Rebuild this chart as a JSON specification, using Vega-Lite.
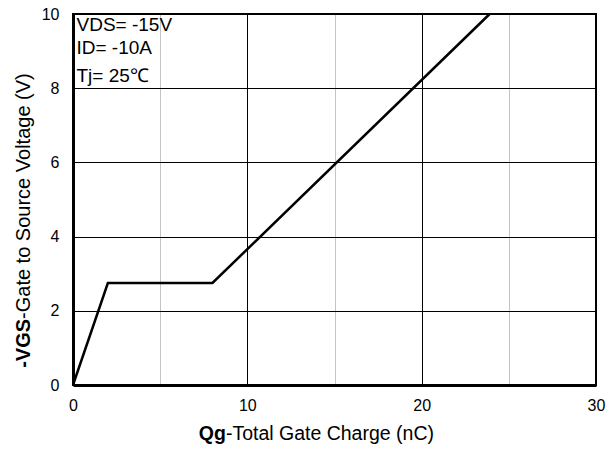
{
  "$schema": "https://vega.github.io/schema/vega-lite/v6.json",
  "width": 523,
  "height": 371,
  "autosize": {"type": "none"},
  "padding": {"left": 73, "top": 14, "right": 19, "bottom": 65},
  "background": "white",
  "config": {
    "font": "Liberation Sans",
    "view": {"stroke": "black", "strokeWidth": 2},
    "text": {"font": "Liberation Sans", "color": "black"}
  },
  "datasets": {
    "gateCharge": [
      {"qg": 0, "vgs": 0},
      {"qg": 2, "vgs": 2.75},
      {"qg": 8, "vgs": 2.75},
      {"qg": 23.9, "vgs": 10}
    ],
    "conditions": [
      {"qg": 0.2, "vgs": 9.7, "label": "VDS= -15V"},
      {"qg": 0.2, "vgs": 9.08, "label": "ID= -10A"},
      {"qg": 0.2, "vgs": 8.32, "label": "Tj= 25℃"}
    ]
  },
  "layer": [
    {
      "data": {"name": "gateCharge"},
      "mark": {"type": "line", "color": "black", "strokeWidth": 2.5},
      "encoding": {
        "x": {
          "field": "qg",
          "type": "quantitative",
          "scale": {"domain": [0, 30], "nice": false},
          "axis": {
            "title": null,
            "values": [0, 5, 10, 15, 20, 25, 30],
            "labelExpr": "datum.value % 10 === 0 ? datum.label : ''",
            "labelFlush": false,
            "grid": true,
            "gridColor": {"condition": {"test": "datum.value % 10 === 0", "value": "#000000"}, "value": "#c4c4c4"},
            "gridWidth": 1,
            "ticks": false,
            "domainColor": "black",
            "domainWidth": 3,
            "labelFontSize": 16,
            "labelColor": "black",
            "labelPadding": 12
          }
        },
        "y": {
          "field": "vgs",
          "type": "quantitative",
          "scale": {"domain": [0, 10], "nice": false},
          "axis": {
            "title": null,
            "values": [0, 1, 2, 3, 4, 5, 6, 7, 8, 9, 10],
            "labelExpr": "datum.value % 2 === 0 ? datum.label : ''",
            "labelFlush": false,
            "grid": true,
            "gridColor": {"condition": {"test": "datum.value % 2 === 0", "value": "#000000"}, "value": "#c4c4c4"},
            "gridWidth": 1,
            "ticks": false,
            "domainColor": "black",
            "domainWidth": 3,
            "labelFontSize": 16,
            "labelColor": "black",
            "labelPadding": 14
          }
        }
      }
    },
    {
      "data": {"name": "conditions"},
      "mark": {"type": "text", "align": "left", "baseline": "middle", "fontSize": 19},
      "encoding": {
        "x": {"field": "qg", "type": "quantitative"},
        "y": {"field": "vgs", "type": "quantitative"},
        "text": {"field": "label"}
      }
    },
    {
      "data": {"values": [{}]},
      "mark": {"type": "text", "text": "Qg", "fontWeight": "bold", "align": "right", "baseline": "middle", "fontSize": 19.5},
      "encoding": {"x": {"datum": 8.77}, "y": {"datum": -1.32}}
    },
    {
      "data": {"values": [{}]},
      "mark": {"type": "text", "text": "-Total Gate Charge (nC)", "align": "left", "baseline": "middle", "fontSize": 19.5},
      "encoding": {"x": {"datum": 8.77}, "y": {"datum": -1.32}}
    },
    {
      "data": {"values": [{}]},
      "mark": {"type": "text", "text": "-VGS", "fontWeight": "bold", "angle": 270, "align": "right", "baseline": "middle", "fontSize": 20},
      "encoding": {"x": {"datum": -2.8}, "y": {"datum": 1.78}}
    },
    {
      "data": {"values": [{}]},
      "mark": {"type": "text", "text": "-Gate to Source Voltage (V)", "angle": 270, "align": "left", "baseline": "middle", "fontSize": 20},
      "encoding": {"x": {"datum": -2.8}, "y": {"datum": 1.78}}
    }
  ]
}
